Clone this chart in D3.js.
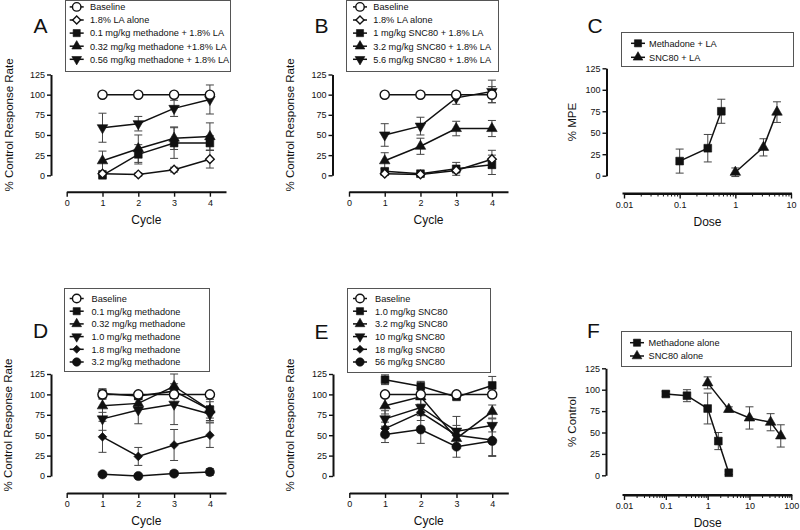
<!DOCTYPE html>
<html>
<head>
<meta charset="utf-8">
<script src="https://cdn.jsdelivr.net/npm/d3@7"></script>
<style>
  body { margin: 0; background: #fff; }
  text { font-family: "Liberation Sans", Arial, sans-serif; fill: #111; }
</style>
</head>
<body>
<div id="js_chart"></div>
<script>
// ******************************************************
// Data
// ******************************************************
const cycles = [1, 2, 3, 4];
const cycleTicks = [0, 1, 2, 3, 4];
const pctTicks = [0, 25, 50, 75, 100, 125];

// A: methadone + LA
const aLabels = ["Baseline", "1.8% LA alone", "0.1 mg/kg methadone + 1.8% LA",
                 "0.32 mg/kg methadone +1.8% LA", "0.56 mg/kg methadone + 1.8% LA"];
const aMeans = [[100, 100, 100, 100], [2, 1, 7, 20], [0, 26, 40, 40], [18, 33, 46, 48], [59, 64, 83, 94]];
const aErrors = [[0, 0, 0, 0], [3, 2, 3, 11], [3, 12, 19, 9], [12, 17, 14, 17], [18, 9, 10, 18]];

// B: SNC80 + LA
const bLabels = ["Baseline", "1.8% LA alone", "1 mg/kg SNC80 + 1.8% LA",
                 "3.2 mg/kg SNC80 + 1.8% LA", "5.6 mg/kg SNC80 + 1.8% LA"];
const bMeans = [[100, 100, 100, 100], [2, 1, 6, 20], [5, 2, 8, 13], [18, 36, 58, 58], [50, 61, 96, 104]];
const bErrors = [[0, 0, 0, 10], [2, 2, 3, 11], [3, 2, 8, 12], [10, 10, 9, 10], [14, 11, 8, 14]];

// C: dose effect with LA (% MPE)
const cLabels = ["Methadone + LA", "SNC80 + LA"];
const cDoses = [[0.1, 0.32, 0.56], [1, 3.2, 5.6]];
const cMeans = [[17, 32, 75], [4, 33, 74]];
const cErrors = [[14, 16, 14], [5, 10, 12]];
const cTicks = [0.01, 0.1, 1, 10];

// D: methadone alone
const dLabels = ["Baseline", "0.1 mg/kg methadone", "0.32 mg/kg methadone",
                 "1.0 mg/kg methadone", "1.8 mg/kg methadone", "3.2 mg/kg methadone"];
const dMeans = [[100, 100, 100, 100], [101, 98, 104, 81], [86, 89, 110, 81],
                [70, 81, 88, 76], [48, 24, 38, 50], [2, 0, 3, 5]];
const dErrors = [[0, 0, 0, 0], [6, 4, 5, 13], [8, 6, 15, 10],
                 [14, 17, 25, 10], [19, 11, 19, 15], [2, 2, 2, 4]];

// E: SNC80 alone
const eLabels = ["Baseline", "1.0 mg/kg SNC80", "3.2 mg/kg SNC80",
                 "10 mg/kg SNC80", "18 mg/kg SNC80", "56 mg/kg SNC80"];
const eMeans = [[100, 100, 100, 100], [118, 110, 97, 111], [86, 97, 46, 79],
                [70, 84, 55, 62], [58, 78, 50, 44], [51, 57, 36, 43]];
const eErrors = [[0, 0, 0, 0], [6, 6, 3, 11], [10, 10, 12, 8],
                 [10, 10, 18, 8], [8, 10, 12, 19], [10, 17, 13, 19]];

// F: dose effect alone (% control)
const fLabels = ["Methadone alone", "SNC80 alone"];
const fDoses = [[0.1, 0.32, 1, 1.8, 3.2], [1, 3.2, 10, 32, 56]];
const fMeans = [[95, 93, 78, 40, 3], [108, 77, 67, 62, 46]];
const fErrors = [[3, 7, 18, 10, 2], [7, 3, 13, 10, 13]];
const fTicks = [0.01, 0.1, 1, 10, 100];

// ******************************************************
// svg
// ******************************************************
const svg = d3.select("#js_chart")
    .append("svg")
    .attr("width", 800)
    .attr("height", 530);

const symbolsCycleA = ["circleOpen", "diamondOpen", "square", "triUp", "triDown"];
const symbolsCycleD = ["circleOpen", "square", "triUp", "triDown", "diamond", "circle"];
const symbolsDose = ["square", "triUp"];

function symbolPath(kind, scale) {
    let type = d3.symbolSquare, size = 60;
    if (kind === "circleOpen" || kind === "circle") { type = d3.symbolCircle; size = 66; }
    if (kind === "triUp" || kind === "triDown") { type = d3.symbolTriangle; size = 48; }
    if (kind === "diamondOpen" || kind === "diamond") { size = 38; }
    return d3.symbol().type(type).size(size * scale)();
}

function symbolRotate(kind) {
    if (kind === "triDown") return " rotate(180)";
    if (kind === "diamondOpen" || kind === "diamond") return " rotate(45)";
    return "";
}

function addMarker(g, kind, cx, cy, scale) {
    const open = kind === "circleOpen" || kind === "diamondOpen";
    g.append("path")
        .attr("d", symbolPath(kind, scale || 1))
        .attr("transform", "translate(" + cx + "," + cy + ")" + symbolRotate(kind))
        .attr("fill", open ? "#fff" : "#111")
        .attr("stroke", "#111")
        .attr("stroke-width", open ? 1.4 : 0.6);
}

function styleAxis(ax) {
    ax.select(".domain").attr("stroke", "#111").attr("stroke-width", 2);
    ax.selectAll(".tick line").attr("stroke", "#111").attr("stroke-width", 1.4);
    ax.selectAll(".tick text").attr("font-size", 9).attr("fill", "#111")
        .attr("font-family", "'Liberation Sans', Arial, sans-serif");
}

// ******************************************************
// Panel
// ******************************************************
function drawPanel(p) {
    const g = svg.append("g");

    const y = d3.scaleLinear().domain([0, 125]).range([p.y0, p.y125]);
    let x;
    if (p.log) {
        x = d3.scaleLog().domain([p.xTicks[0], p.xTicks[p.xTicks.length - 1]]).range(p.xRange);
    } else {
        x = d3.scaleLinear().domain([0, 4.45]).range(p.xRange);
    }

    // y axis
    const ay = g.append("g")
        .attr("transform", "translate(" + p.yAxisX + ",0)")
        .call(d3.axisLeft(y).tickValues(pctTicks).tickSize(4).tickSizeOuter(0).tickPadding(2));
    styleAxis(ay);

    // x axis
    if (p.log) {
        const minor = [];
        for (let k = 0; k < p.xTicks.length - 1; k++)
            for (let m = 2; m <= 9; m++) minor.push(p.xTicks[k] * m);
        const am = g.append("g")
            .attr("transform", "translate(0," + p.xAxisY + ")")
            .call(d3.axisBottom(x).tickValues(minor).tickSize(3).tickSizeOuter(0).tickFormat(""));
        styleAxis(am);
        am.selectAll(".tick line").attr("stroke-width", 1);
        const ax = g.append("g")
            .attr("transform", "translate(0," + p.xAxisY + ")")
            .call(d3.axisBottom(x).tickValues(p.xTicks).tickSize(5).tickSizeOuter(0)
                .tickPadding(3).tickFormat(d => String(d)));
        styleAxis(ax);
        ax.select(".domain").attr("d", "M" + (p.xRange[0] - 1.5) + ",0H" + (p.xRange[1] + 1));
    } else {
        const ax = g.append("g")
            .attr("transform", "translate(0," + p.xAxisY + ")")
            .call(d3.axisBottom(x).tickValues(cycleTicks).tickSize(5).tickSizeOuter(0)
                .tickPadding(3).tickFormat(d3.format("d")));
        styleAxis(ax);
    }

    // axis titles
    g.append("text")
        .attr("transform", "translate(" + p.yTitleX + "," + ((p.y0 + p.y125) / 2) + ") rotate(-90)")
        .attr("text-anchor", "middle")
        .attr("dominant-baseline", "central")
        .attr("font-size", 11.5)
        .text(p.yTitle);
    g.append("text")
        .attr("x", (p.xRange[0] + p.xRange[1]) / 2)
        .attr("y", p.xAxisY + 32)
        .attr("text-anchor", "middle")
        .attr("font-size", 12)
        .text(p.xTitle);

    // panel letter
    g.append("text")
        .attr("x", p.letterPos[0])
        .attr("y", p.letterPos[1] + 7.5)
        .attr("text-anchor", "middle")
        .attr("font-size", 21)
        .text(p.letter);

    // series: error bars, lines, markers
    const series = p.means.map(function (m, i) {
        return m.map(function (v, j) {
            return {x: p.xs[i][j], y: v, e: p.errors[i][j]};
        });
    });

    series.forEach(function (s) {
        s.filter(d => d.e > 0).forEach(function (d) {
            const cx = x(d.x), top = y(d.y + d.e), bot = y(d.y - d.e);
            g.append("path")
                .attr("d", "M" + cx + "," + top + "V" + bot +
                    "M" + (cx - 4) + "," + top + "H" + (cx + 4) +
                    "M" + (cx - 4) + "," + bot + "H" + (cx + 4))
                .attr("fill", "none")
                .attr("stroke", "#444")
                .attr("stroke-width", 1);
        });
    });

    const line = d3.line().x(d => x(d.x)).y(d => y(d.y));
    series.forEach(function (s) {
        g.append("path")
            .attr("d", line(s))
            .attr("fill", "none")
            .attr("stroke", "#111")
            .attr("stroke-width", 1.5);
    });

    series.slice().reverse().forEach(function (s, ri) {
        const kind = p.symbols[series.length - 1 - ri];
        s.forEach(d => addMarker(g, kind, x(d.x), y(d.y)));
    });

    // legend
    const lb = p.legendBox;
    g.append("rect")
        .attr("x", lb[0] + 0.5).attr("y", lb[1] + 0.5)
        .attr("width", lb[2] - lb[0]).attr("height", lb[3] - lb[1])
        .attr("fill", "#fff")
        .attr("stroke", "#555")
        .attr("stroke-width", 1);
    p.labels.forEach(function (label, i) {
        const ry = p.legendRows[0] + i * p.legendRows[1];
        g.append("line")
            .attr("x1", p.legendSymX - 7).attr("x2", p.legendSymX + 7)
            .attr("y1", ry).attr("y2", ry)
            .attr("stroke", "#111").attr("stroke-width", 1.5);
        addMarker(g, p.symbols[i], p.legendSymX, ry, 0.85);
        g.append("text")
            .attr("x", p.legendTextX)
            .attr("y", ry + 3.3)
            .attr("font-size", 9.2)
            .text(label);
    });
}

// ******************************************************
// Panels
// ******************************************************
const cycleXs = n => d3.range(n).map(() => cycles);

drawPanel({letter: "A", letterPos: [40.5, 25], means: aMeans, errors: aErrors, xs: cycleXs(5),
    labels: aLabels, symbols: symbolsCycleA, y0: 175.3, y125: 74.5, yAxisX: 51, xAxisY: 191.7,
    xRange: [66.7, 226], yTitle: "% Control Response Rate", yTitleX: 8.5, xTitle: "Cycle",
    legendBox: [65, 0, 230, 71], legendRows: [6.9, 13.1], legendSymX: 76.7, legendTextX: 90});

drawPanel({letter: "B", letterPos: [321.5, 25], means: bMeans, errors: bErrors, xs: cycleXs(5),
    labels: bLabels, symbols: symbolsCycleA, y0: 175.3, y125: 74.5, yAxisX: 332.5, xAxisY: 191.7,
    xRange: [349, 508], yTitle: "% Control Response Rate", yTitleX: 290, xTitle: "Cycle",
    legendBox: [346, 0, 498, 71], legendRows: [6.9, 13.1], legendSymX: 360, legendTextX: 373.3});

drawPanel({letter: "C", letterPos: [595, 25], means: cMeans, errors: cErrors, xs: cDoses, log: true,
    xTicks: cTicks, labels: cLabels, symbols: symbolsDose, y0: 175.7, y125: 68.3, yAxisX: 606.5,
    xAxisY: 193.5, xRange: [624, 791], yTitle: "% MPE", yTitleX: 572, xTitle: "Dose",
    legendBox: [621, 32, 793, 66], legendRows: [43.3, 14], legendSymX: 638, legendTextX: 649});

drawPanel({letter: "D", letterPos: [40.5, 330], means: dMeans, errors: dErrors, xs: cycleXs(6),
    labels: dLabels, symbols: symbolsCycleD, y0: 476, y125: 374, yAxisX: 51, xAxisY: 493,
    xRange: [66.7, 226], yTitle: "% Control Response Rate", yTitleX: 7.5, xTitle: "Cycle",
    legendBox: [64, 288, 209, 371], legendRows: [298.5, 12.7], legendSymX: 76.7, legendTextX: 91.5});

drawPanel({letter: "E", letterPos: [321.5, 331.5], means: eMeans, errors: eErrors, xs: cycleXs(6),
    labels: eLabels, symbols: symbolsCycleD, y0: 476, y125: 374, yAxisX: 333, xAxisY: 493,
    xRange: [349.3, 508.3], yTitle: "% Control Response Rate", yTitleX: 290, xTitle: "Cycle",
    legendBox: [347, 288, 490, 372], legendRows: [298.5, 12.7], legendSymX: 360, legendTextX: 375});

drawPanel({letter: "F", letterPos: [593.5, 330.5], means: fMeans, errors: fErrors, xs: fDoses, log: true,
    xTicks: fTicks, labels: fLabels, symbols: symbolsDose, y0: 475.3, y125: 368.3, yAxisX: 606,
    xAxisY: 495, xRange: [624, 791.3], yTitle: "% Control", yTitleX: 572, xTitle: "Dose",
    legendBox: [621, 331, 791, 366], legendRows: [342.7, 13.3], legendSymX: 637, legendTextX: 648.5});
</script>
</body>
</html>
